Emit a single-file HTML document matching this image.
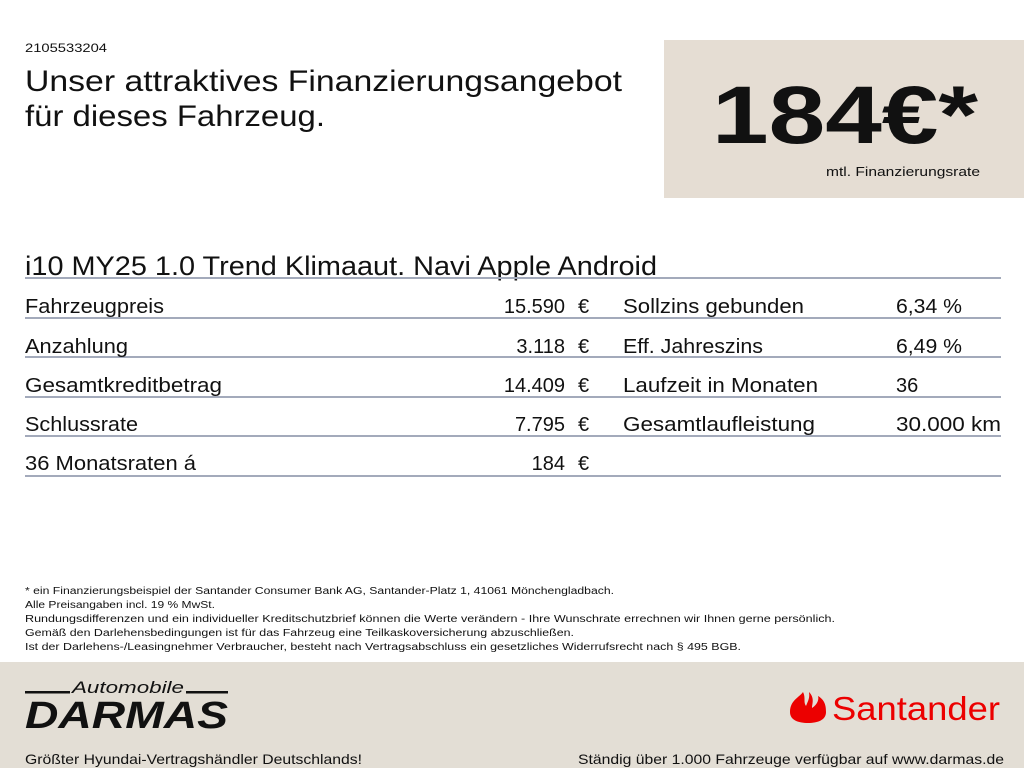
<!DOCTYPE html>
<html><head><meta charset="utf-8"><style>
html,body{margin:0;padding:0;background:#fff;}
svg{display:block;}
text{font-family:"Liberation Sans",sans-serif;fill:#111;}
</style></head><body>
<svg width="1024" height="768" viewBox="0 0 1024 768" xmlns="http://www.w3.org/2000/svg">
<rect x="0" y="0" width="1024" height="768" fill="#fff"/>
<rect x="664" y="40" width="360" height="158" fill="#e5ddd3"/>
<rect x="0" y="662" width="1024" height="106" fill="#e3ded5"/>

<text x="25" y="52" font-size="12" textLength="82" lengthAdjust="spacingAndGlyphs">2105533204</text>
<text x="25" y="91" font-size="30" textLength="597" lengthAdjust="spacingAndGlyphs">Unser attraktives Finanzierungsangebot</text>
<text x="25" y="126" font-size="30" textLength="300" lengthAdjust="spacingAndGlyphs">für dieses Fahrzeug.</text>
<text x="712" y="143" font-size="82" font-weight="bold" textLength="266" lengthAdjust="spacingAndGlyphs">184€*</text>
<text x="826" y="176" font-size="13" textLength="154" lengthAdjust="spacingAndGlyphs">mtl. Finanzierungsrate</text>

<text x="25" y="275" font-size="27" textLength="632" lengthAdjust="spacingAndGlyphs">i10 MY25 1.0 Trend Klimaaut. Navi Apple Android</text>
<g fill="#a3aabb">
<rect x="25" y="277" width="976" height="2"/>
<rect x="25" y="317" width="976" height="2"/>
<rect x="25" y="356" width="976" height="2"/>
<rect x="25" y="396" width="976" height="2"/>
<rect x="25" y="435" width="976" height="2"/>
<rect x="25" y="475" width="976" height="2"/>
</g>
<g font-size="20">
<text x="25" y="313" textLength="139" lengthAdjust="spacingAndGlyphs">Fahrzeugpreis</text>
<text x="565" y="313" text-anchor="end">15.590</text><text x="578" y="313">€</text>
<text x="623" y="313" textLength="181" lengthAdjust="spacingAndGlyphs">Sollzins gebunden</text>
<text x="896" y="313" textLength="66" lengthAdjust="spacingAndGlyphs">6,34 %</text>

<text x="25" y="353" textLength="103" lengthAdjust="spacingAndGlyphs">Anzahlung</text>
<text x="565" y="353" text-anchor="end">3.118</text><text x="578" y="353">€</text>
<text x="623" y="353" textLength="140" lengthAdjust="spacingAndGlyphs">Eff. Jahreszins</text>
<text x="896" y="353" textLength="66" lengthAdjust="spacingAndGlyphs">6,49 %</text>

<text x="25" y="392" textLength="197" lengthAdjust="spacingAndGlyphs">Gesamtkreditbetrag</text>
<text x="565" y="392" text-anchor="end">14.409</text><text x="578" y="392">€</text>
<text x="623" y="392" textLength="195" lengthAdjust="spacingAndGlyphs">Laufzeit in Monaten</text>
<text x="896" y="392">36</text>

<text x="25" y="431" textLength="113" lengthAdjust="spacingAndGlyphs">Schlussrate</text>
<text x="565" y="431" text-anchor="end">7.795</text><text x="578" y="431">€</text>
<text x="623" y="431" textLength="192" lengthAdjust="spacingAndGlyphs">Gesamtlaufleistung</text>
<text x="896" y="431" textLength="105" lengthAdjust="spacingAndGlyphs">30.000 km</text>

<text x="25" y="470" textLength="171" lengthAdjust="spacingAndGlyphs">36 Monatsraten á</text>
<text x="565" y="470" text-anchor="end">184</text><text x="578" y="470">€</text>
</g>

<g font-size="10">
<text x="25" y="594" textLength="589" lengthAdjust="spacingAndGlyphs">* ein Finanzierungsbeispiel der Santander Consumer Bank AG, Santander-Platz 1, 41061 Mönchengladbach.</text>
<text x="25" y="608" textLength="190" lengthAdjust="spacingAndGlyphs">Alle Preisangaben incl. 19 % MwSt.</text>
<text x="25" y="622" textLength="810" lengthAdjust="spacingAndGlyphs">Rundungsdifferenzen und ein individueller Kreditschutzbrief können die Werte verändern - Ihre Wunschrate errechnen wir Ihnen gerne persönlich.</text>
<text x="25" y="636" textLength="549" lengthAdjust="spacingAndGlyphs">Gemäß den Darlehensbedingungen ist für das Fahrzeug eine Teilkaskoversicherung abzuschließen.</text>
<text x="25" y="650" textLength="716" lengthAdjust="spacingAndGlyphs">Ist der Darlehens-/Leasingnehmer Verbraucher, besteht nach Vertragsabschluss ein gesetzliches Widerrufsrecht nach § 495 BGB.</text>
</g>

<!-- Darmas logo -->
<rect x="25" y="691" width="45" height="2.5" fill="#111"/>
<rect x="186" y="691" width="42" height="2.5" fill="#111"/>
<text x="72" y="693" font-size="17" font-style="italic" textLength="112" lengthAdjust="spacingAndGlyphs">Automobile</text>
<text x="25" y="728" font-size="38" font-weight="bold" font-style="italic" textLength="203" lengthAdjust="spacingAndGlyphs">DARMAS</text>

<!-- Santander -->
<g fill="#ec0000">
<path d="M790 712 C790 700 800 697 803 692 C806 698 803 702 806 706 C808 701 810 698 809 692 C815 698 812 704 812 708 C818 704 819 699 818 696 C825 700 826 706 826 712 C826 720 818 723 808 723 C798 723 790 720 790 712 Z"/>
</g>
<text x="832" y="720" font-size="33" fill="#ec0000" style="fill:#ec0000" textLength="168" lengthAdjust="spacingAndGlyphs">Santander</text>

<text x="25" y="764" font-size="14" textLength="337" lengthAdjust="spacingAndGlyphs">Größter Hyundai-Vertragshändler Deutschlands!</text>
<text x="578" y="764" font-size="14" textLength="426" lengthAdjust="spacingAndGlyphs">Ständig über 1.000 Fahrzeuge verfügbar auf www.darmas.de</text>
</svg>
</body></html>
